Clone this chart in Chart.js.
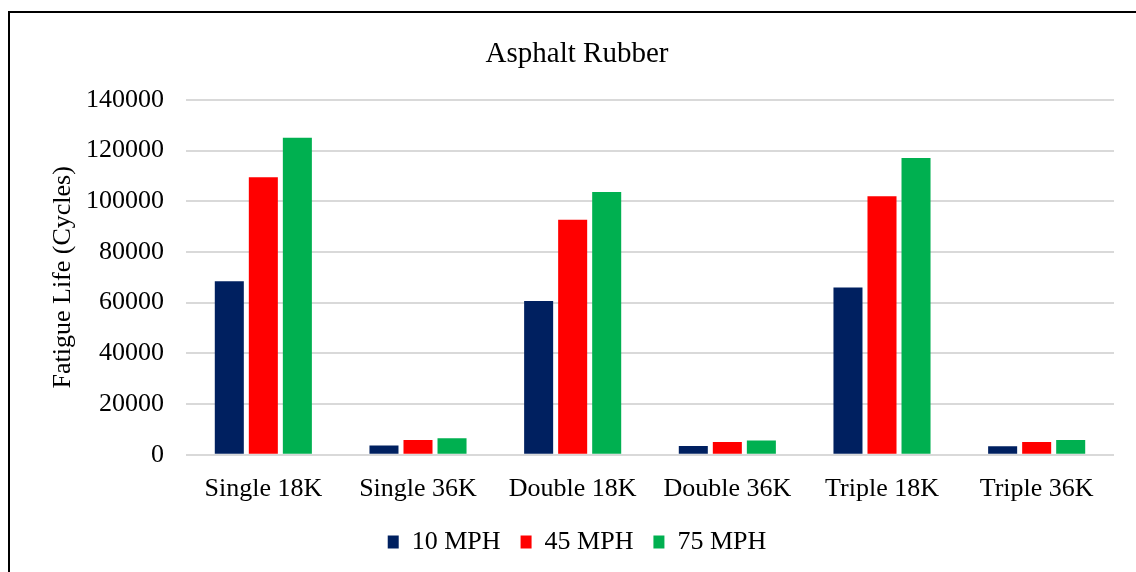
<!DOCTYPE html>
<html>
<head>
<meta charset="utf-8">
<title>Asphalt Rubber</title>
<script src="https://cdn.jsdelivr.net/npm/chart.js@4.4.1/dist/chart.umd.min.js"></script>
<style>
    html, body { margin: 0; padding: 0; overflow: hidden; background: #fff; }
    #wrap { position: relative; width: 1136px; height: 572px; }
    #frame {
        position: absolute; left: 8px; top: 11px; width: 1300px; height: 800px;
        border-left: 2px solid #000; border-top: 2px solid #000;
        pointer-events: none;
    }
    canvas { position: absolute; left: 0; top: 0; }
</style>
</head>
<body>
<div id="wrap">
    <canvas id="fatigueChart" width="1136" height="572"></canvas>
    <div id="frame"></div>
</div>
<script>
// Дані графіка
const categories = ['Single 18K', 'Single 36K', 'Double 18K', 'Double 36K', 'Triple 18K', 'Triple 36K'];
const mph10 = [68400, 3700, 60700, 3500, 66000, 3400];
const mph45 = [109500, 5800, 92700, 5000, 102000, 5000];
const mph75 = [125000, 6500, 103600, 5600, 117000, 5800];
const yTicks = [0, 20000, 40000, 60000, 80000, 100000, 120000, 140000];

const serif = '"Liberation Serif", "Times New Roman", serif';

document.addEventListener('DOMContentLoaded', function() {
    const canvas = document.getElementById('fatigueChart');

    new Chart(canvas, {
        type: 'bar',
        data: {
            labels: categories,
            datasets: [
                { label: '10 MPH', data: mph10, backgroundColor: '#002060' },
                { label: '45 MPH', data: mph45, backgroundColor: '#FF0000' },
                { label: '75 MPH', data: mph75, backgroundColor: '#00B050' }
            ]
        },
        options: {
            responsive: false,
            animation: false,
            events: [],
            datasets: {
                bar: { barPercentage: 0.853, categoryPercentage: 0.66 }
            },
            layout: { padding: { left: 40, right: 22, top: 37, bottom: 7 } },
            scales: {
                x: {
                    grid: { display: false },
                    border: { display: false },
                    afterFit: function(scale) { scale.height = 54.2; },
                    ticks: { color: '#000', padding: 10.5, font: { family: serif, size: 26 } }
                },
                y: {
                    min: 0,
                    max: 140000,
                    afterBuildTicks: function(scale) {
                        scale.ticks = yTicks.map(v => ({ value: v }));
                    },
                    afterFit: function(scale) { scale.width = 146; },
                    grid: { color: '#d9d9d9', lineWidth: 2, drawTicks: false },
                    border: { display: false },
                    ticks: {
                        color: '#000',
                        padding: 22,
                        font: { family: serif, size: 26 },
                        callback: function(value) { return String(value); }
                    },
                    title: {
                        display: true,
                        text: 'Fatigue Life (Cycles)',
                        color: '#000',
                        padding: { top: 8, bottom: 0 },
                        font: { family: serif, size: 26, weight: 'normal' }
                    }
                }
            },
            plugins: {
                title: {
                    display: true,
                    text: 'Asphalt Rubber',
                    color: '#000',
                    padding: { top: 0, bottom: 28 },
                    font: { family: serif, size: 29, weight: 'normal' }
                },
                legend: {
                    position: 'bottom',
                    labels: {
                        color: '#000',
                        boxWidth: 11,
                        boxHeight: 13,
                        padding: 20,
                        font: { family: serif, size: 26 }
                    }
                },
                tooltip: { enabled: false }
            }
        }
    });
});
</script>
</body>
</html>
